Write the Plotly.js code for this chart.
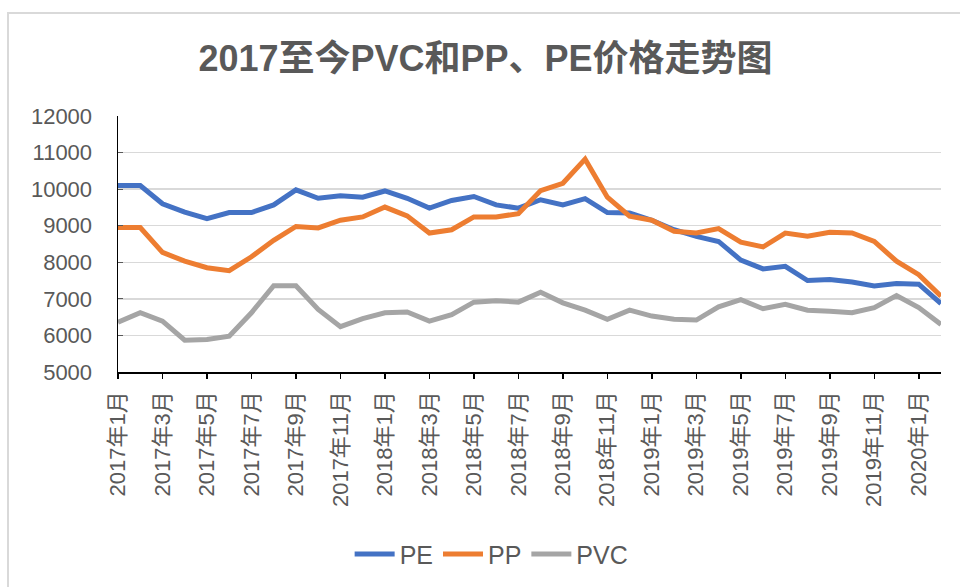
<!DOCTYPE html>
<html>
<head>
<meta charset="utf-8">
<script src="https://cdn.plot.ly/plotly-3.0.1.min.js"></script>
<style>
html,body{margin:0;padding:0;background:#fff;}
#wrap{position:relative;width:960px;height:587px;overflow:hidden;}
#frame{position:absolute;left:7px;top:12px;width:1000px;height:700px;border-left:2px solid #d9d9d9;border-top:2px solid #d9d9d9;box-sizing:border-box;}
#chart{position:absolute;left:0;top:0;width:960px;height:587px;}
</style>
</head>
<body>
<div id="wrap"><div id="frame"></div><div id="chart"></div></div>
<script>
var months = ["2017年1月","2017年2月","2017年3月","2017年4月","2017年5月","2017年6月","2017年7月","2017年8月","2017年9月","2017年10月","2017年11月","2017年12月",
"2018年1月","2018年2月","2018年3月","2018年4月","2018年5月","2018年6月","2018年7月","2018年8月","2018年9月","2018年10月","2018年11月","2018年12月",
"2019年1月","2019年2月","2019年3月","2019年4月","2019年5月","2019年6月","2019年7月","2019年8月","2019年9月","2019年10月","2019年11月","2019年12月",
"2020年1月","2020年2月"];
var pe = [10100,10100,9600,9370,9190,9360,9360,9570,9980,9750,9820,9780,9950,9750,9480,9690,9800,9570,9480,9710,9570,9740,9360,9350,9150,8890,8710,8570,8060,7820,7890,7500,7530,7460,7350,7420,7400,6870];
var pp = [8950,8950,8270,8030,7850,7770,8150,8600,8980,8940,9150,9240,9510,9270,8800,8890,9240,9240,9330,9960,10160,10820,9780,9260,9150,8850,8800,8920,8550,8420,8800,8710,8820,8800,8570,8030,7660,7070];
var pvc = [6360,6620,6390,5870,5890,5980,6620,7360,7360,6710,6240,6460,6620,6640,6390,6570,6910,6950,6910,7180,6890,6690,6440,6690,6530,6440,6420,6780,6980,6730,6850,6690,6660,6620,6760,7090,6760,6300];
var seriesNames = ["PE","PP","PVC"];
var tickLabels = months.filter(function(m,i){return i%2===0;});
var yTicks = [5000,6000,7000,8000,9000,10000,11000,12000];
var yTickText = ["5000","6000","7000","8000","9000","10000","11000","12000"];

var colors = ["#4472C4","#ED7D31","#A5A5A5"];
var font = "Liberation Sans, Arial, 'Noto Sans CJK SC', sans-serif";
var data = [pe,pp,pvc].map(function(v,k){
  return {x: months, y: v, name: seriesNames[k], type:'scatter', mode:'lines',
    line:{color:colors[k], width:5}};
});
var layout = {
  width:960, height:587,
  margin:{l:118, r:19, t:116, b:214, pad:0},
  paper_bgcolor:'rgba(0,0,0,0)', plot_bgcolor:'rgba(0,0,0,0)',
  title:{text:"2017至今PVC和PP、PE价格走势图", x:0.4465, xref:'paper', xanchor:'center', y:0.9, yanchor:'middle',
    font:{family:font, size:36, color:'#595959', weight:'bold'}},
  xaxis:{type:'category', range:[0,37], tickmode:'array', tickvals:tickLabels, ticktext:tickLabels,
    tickangle:-90, ticks:'outside', ticklen:5, tickcolor:'#000', tickwidth:1.5,
    showline:true, linecolor:'#000', linewidth:1.5, showgrid:false, zeroline:false,
    tickfont:{family:font, size:22, color:'#595959'}, ticklabelstandoff:4},
  yaxis:{range:[5000,12000], tickmode:'array', tickvals:yTicks, ticktext:yTickText, ticks:'inside', ticklen:5, tickcolor:'#595959', tickwidth:1,
    showline:true, linecolor:'#000', linewidth:1.5, showgrid:true, gridcolor:'#d9d9d9', gridwidth:1.5, zeroline:false,
    tickfont:{family:font, size:22, color:'#595959'}, ticklabelstandoff:20},
  showlegend:true,
  legend:{orientation:'h', x:0.454, xanchor:'center', y:-0.705, yanchor:'middle',
    font:{family:font, size:25, color:'#595959'}, itemwidth:40, tracegroupgap:0}
};
Plotly.newPlot('chart', data, layout, {staticPlot:true, displayModeBar:false});
</script>
</body>
</html>
